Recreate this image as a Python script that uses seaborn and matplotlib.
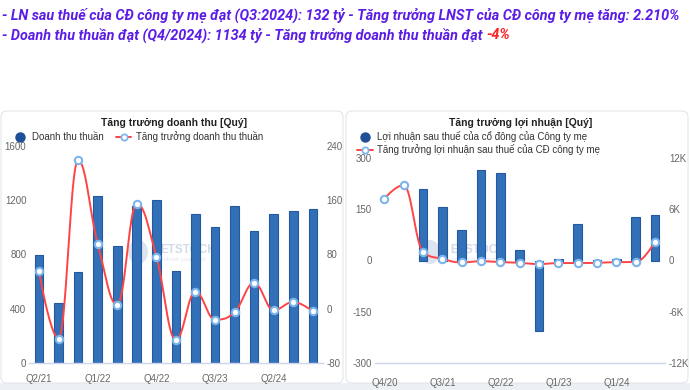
import numpy as np
import pandas as pd
import seaborn as sns
import matplotlib.pyplot as plt
from matplotlib.lines import Line2D
from matplotlib.patches import FancyBboxPatch, Ellipse

sns.set_theme(style="white")
plt.rcParams["font.family"] = ["Liberation Sans", "DejaVu Sans"]

# ---- data: revenue chart ----
rev_quarters = ["Q2/21", "Q3/21", "Q4/21", "Q1/22", "Q2/22", "Q3/22", "Q4/22", "Q1/23",
                "Q2/23", "Q3/23", "Q4/23", "Q1/24", "Q2/24", "Q3/24", "Q4/24"]
rev_values = [800, 440, 670, 1235, 860, 1160, 1200, 680, 1100, 1000, 1160, 970, 1100, 1120, 1134]
rev_growth = [55, -44, 219, 96, 6, 155, 77, -46, 25, -16, -5, 38, -2, 10, -4]
rev_xlabels = ["Q2/21", "Q1/22", "Q4/22", "Q3/23", "Q2/24"]

# ---- data: profit chart ----
prof_quarters = ["Q4/20", "Q1/21", "Q2/21", "Q3/21", "Q4/21", "Q1/22", "Q2/22", "Q3/22", "Q4/22",
                 "Q1/23", "Q2/23", "Q3/23", "Q1/24", "Q2/24", "Q3/24"]
prof_values = [np.nan, np.nan, 209, 157, 90, 263, 255, 30, -205, 5, 106, 1, 4, 128, 132]
prof_growth = [7200, 8800, 1050, 200, -230, -80, -190, -270, -420, -300, -300, -270, -190, -190, 2210]
prof_xlabels = ["Q4/20", "Q3/21", "Q2/22", "Q1/23", "Q1/24"]

BAR = "#3270b8"
BAR_EDGE = "#2459a0"
LINE = "#ff4444"
MARK = "#7cb5ec"
TICK = "#666666"
AXIS = "#ccd6eb"


def spline(xs, ys, smoothing=1.5, steps=24):
    # highcharts-like spline through the points
    n = len(xs)
    denom = smoothing + 1
    lc, rc = [], []
    for i in range(n):
        x, y = xs[i], ys[i]
        if i == 0 or i == n - 1:
            lc.append((x, y)); rc.append((x, y)); continue
        px, py, nx, ny = xs[i - 1], ys[i - 1], xs[i + 1], ys[i + 1]
        lcx, lcy = (smoothing * x + px) / denom, (smoothing * y + py) / denom
        rcx, rcy = (smoothing * x + nx) / denom, (smoothing * y + ny) / denom
        corr = (rcy - lcy) * (rcx - x) / (rcx - lcx) + y - rcy
        lcy += corr; rcy += corr
        if lcy > py and lcy > y:
            lcy = max(py, y); rcy = 2 * y - lcy
        elif lcy < py and lcy < y:
            lcy = min(py, y); rcy = 2 * y - lcy
        if rcy > ny and rcy > y:
            rcy = max(ny, y); lcy = 2 * y - rcy
        elif rcy < ny and rcy < y:
            rcy = min(ny, y); lcy = 2 * y - rcy
        lc.append((lcx, lcy)); rc.append((rcx, rcy))
    t = np.linspace(0, 1, steps)[:, None]
    pts = []
    for i in range(n - 1):
        p0 = np.array([xs[i], ys[i]]); p1 = np.array(rc[i])
        p2 = np.array(lc[i + 1]); p3 = np.array([xs[i + 1], ys[i + 1]])
        seg = (1 - t) ** 3 * p0 + 3 * (1 - t) ** 2 * t * p1 + 3 * (1 - t) * t ** 2 * p2 + t ** 3 * p3
        pts.append(seg)
    pts = np.vstack(pts)
    return pts[:, 0], pts[:, 1]


def draw_panel(ax, quarters, values, growth, xlabels, ylim, yticks, y2lim, y2ticks, y2fmt, ticks_on, width):
    df = pd.DataFrame({"q": quarters, "v": values})
    sns.barplot(data=df, x="q", y="v", order=quarters, color=BAR, saturation=1,
                width=width, edgecolor=BAR_EDGE, linewidth=0.8, ax=ax)
    ax.set_xlim(-0.5, len(quarters) - 0.5)
    ax.set_ylim(*ylim)
    ax.set_yticks(yticks)
    ax.set_yticklabels([str(v) for v in yticks])
    pos = [quarters.index(q) for q in xlabels]
    ax.set_xticks(pos)
    ax.set_xticklabels(xlabels)
    ax.set_xlabel(""); ax.set_ylabel("")
    for s in ["top", "right", "left"]:
        ax.spines[s].set_visible(False)
    ax.spines["bottom"].set_color(AXIS)
    ax.spines["bottom"].set_linewidth(1)
    ax.tick_params(axis="y", length=0, pad=2, labelsize=7, labelcolor=TICK)
    if ticks_on:
        ax.tick_params(axis="x", direction="inout", length=9, width=1, color=AXIS,
                       pad=6, labelsize=7, labelcolor=TICK)
    else:
        ax.tick_params(axis="x", length=0, pad=8, labelsize=7, labelcolor=TICK)
    ax.patch.set_alpha(0)

    ax2 = ax.twinx()
    x = np.arange(len(quarters), dtype=float)
    sx, sy = spline(list(x), list(map(float, growth)))
    ax2.plot(sx, sy, color=LINE, lw=1.4, zorder=3)
    sns.scatterplot(x=x, y=growth, ax=ax2, color="white", edgecolor=MARK, linewidth=1.5,
                    s=28, zorder=4, legend=False)
    ax2.set_ylim(*y2lim)
    ax2.set_yticks(y2ticks)
    ax2.set_yticklabels([y2fmt(v) for v in y2ticks])
    ax2.set_ylabel("")
    for s in ["top", "right", "left", "bottom"]:
        ax2.spines[s].set_visible(False)
    ax2.tick_params(axis="y", length=0, pad=3, labelsize=7, labelcolor=TICK)
    ax2.set_xlim(-0.5, len(quarters) - 0.5)
    return ax2


fig = plt.figure(figsize=(6.9, 3.9), dpi=100)

# background layer in pixel coordinates
bg = fig.add_axes([0, 0, 1, 1], zorder=0)
bg.set_xlim(0, 690); bg.set_ylim(390, 0); bg.axis("off")
bg.add_patch(plt.Rectangle((0, 383), 690, 7, color="#eceff3", lw=0))
for x0 in (1, 346):
    bg.add_patch(FancyBboxPatch((x0, 111), 342, 272, boxstyle="round,pad=0,rounding_size=6",
                                fill=False, ec="#e3e6ea", lw=0.8))
for cx, tx in ((138, 160), (430, 450)):
    bg.add_patch(Ellipse((cx, 252), 20, 24, color="#dde4ef", lw=0))
    bg.text(tx, 250, "ETSTOCK", color="#d3dbe8", fontsize=8.5, fontweight="bold", va="center")
    bg.text(tx + 2, 259, "refresh your mind", color="#dfe5ee", fontsize=4, va="center")

# header
hdr = dict(family=["Roboto", "DejaVu Sans"], fontweight="bold", style="italic", fontsize=10.4, va="center")
bg.text(2, 15, "- LN sau thuế của CĐ công ty mẹ đạt (Q3:2024): 132 tỷ - Tăng trưởng LNST của CĐ công ty mẹ tăng: 2.210%",
        color="#5b1de6", **hdr)
t2 = bg.text(2, 35, "- Doanh thu thuần đạt (Q4/2024): 1134 tỷ - Tăng trưởng doanh thu thuần đạt ", color="#5b1de6", **hdr)
fig.canvas.draw()
bb = t2.get_window_extent()
x_end = bb.x1 / fig.dpi / 6.9 * 690
bg.text(x_end, 35, "-4%", color="#ff2020", **hdr)

# left panel
axL = fig.add_axes([29.2 / 690, 1 - 363 / 390, 293.4 / 690, 217 / 390], zorder=2)
draw_panel(axL, rev_quarters, rev_values, rev_growth, rev_xlabels,
           (0, 1600), [0, 400, 800, 1200, 1600], (-80, 240), [-80, 0, 80, 160, 240],
           lambda v: str(v), False, 0.44)

# right panel
axR = fig.add_axes([374.6 / 690, 1 - 363.3 / 390, 290.1 / 690, 205.6 / 390], zorder=2)
draw_panel(axR, prof_quarters, prof_values, prof_growth, prof_xlabels,
           (-300, 300), [-300, -150, 0, 150, 300], (-12000, 12000), [-12000, -6000, 0, 6000, 12000],
           lambda v: "0" if v == 0 else f"{v // 1000}K", True, 0.46)

# titles
bg.text(174, 123, "Tăng trưởng doanh thu [Quý]", fontsize=7.5, fontweight="bold", ha="center", va="center", color="#222222")
bg.text(521, 123, "Tăng trưởng lợi nhuận [Quý]", fontsize=7.5, fontweight="bold", ha="center", va="center", color="#222222")

# legends
bar_h = Line2D([], [], marker="o", ls="", color="#1f4f96", markersize=6.5)
line_h = Line2D([], [], color=LINE, lw=1.4, marker="o", markerfacecolor="white",
                markeredgecolor=MARK, markeredgewidth=1.3, markersize=4.5)
legL = fig.legend([bar_h, line_h], ["Doanh thu thuần", "Tăng trưởng doanh thu thuần"],
                  loc="center left", bbox_to_anchor=(12 / 690, 1 - 137 / 390), ncol=2, frameon=False,
                  fontsize=7, handlelength=1.6, handletextpad=0.5, columnspacing=1.2,
                  borderaxespad=0, borderpad=0, labelcolor="#333333")
legR = fig.legend([bar_h, line_h], ["Lợi nhuận sau thuế của cổ đông của Công ty mẹ",
                                    "Tăng trưởng lợi nhuận sau thuế của CĐ công ty mẹ"],
                  loc="upper left", bbox_to_anchor=(357 / 690, 1 - 131 / 390), ncol=1, frameon=False,
                  fontsize=7, handlelength=1.6, handletextpad=0.5, labelspacing=0.25,
                  borderaxespad=0, borderpad=0, labelcolor="#333333")

fig.savefig("out.png", dpi=100)
